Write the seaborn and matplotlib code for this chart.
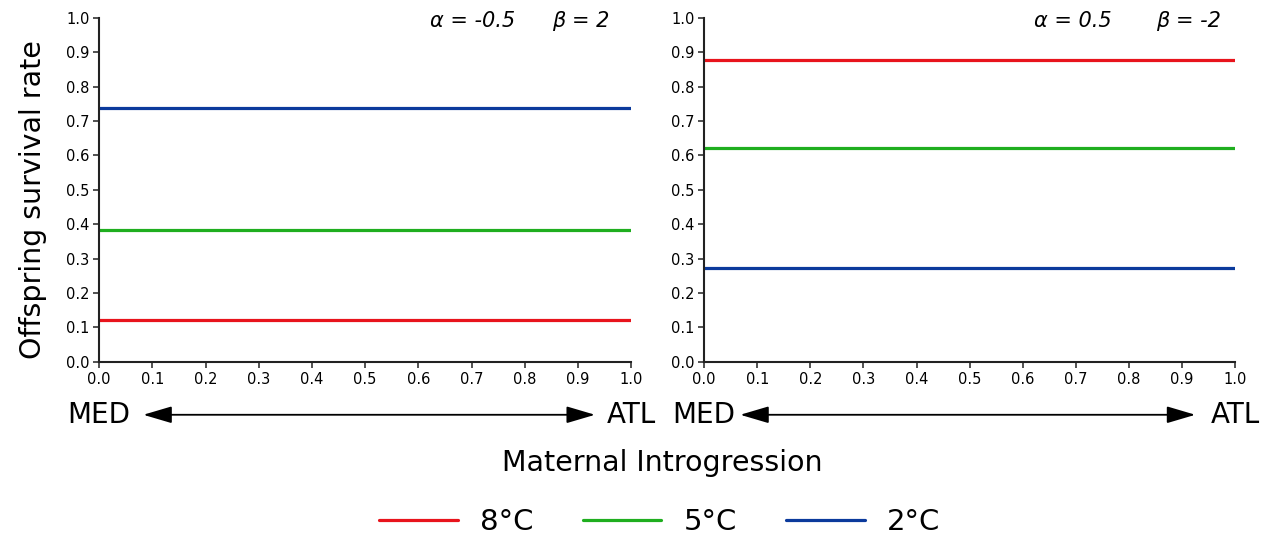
import pandas as pd
import matplotlib
matplotlib.use('Agg')
import matplotlib.pyplot as plt
import seaborn as sns

# data
introgression = [0.0, 1.0]
temperatures = ['8°C', '5°C', '2°C']
surv_left = {'8°C': 0.122, '5°C': 0.383, '2°C': 0.737}
surv_right = {'8°C': 0.878, '5°C': 0.621, '2°C': 0.272}
alpha_labels = ['α = -0.5', 'α = 0.5']
beta_labels = ['β = 2', 'β = -2']
ticks = [0.0, 0.1, 0.2, 0.3, 0.4, 0.5, 0.6, 0.7, 0.8, 0.9, 1.0]

colors = {'8°C': '#e8141c', '5°C': '#1fae1f', '2°C': '#0b3a9c'}

sns.set_theme(style='ticks')
plt.rcParams['font.family'] = ['DejaVu Sans']
plt.rcParams['text.color'] = 'black'
plt.rcParams['xtick.color'] = 'black'
plt.rcParams['ytick.color'] = 'black'
plt.rcParams['axes.labelcolor'] = 'black'


def make_df(surv):
    rows = []
    for t in temperatures:
        for x in introgression:
            rows.append({'intro': x, 'survival': surv[t], 'temp': t})
    return pd.DataFrame(rows)


fig = plt.figure(figsize=(12.71, 5.40), dpi=100)
ax1 = fig.add_axes([0.078, 0.330, 0.4186, 0.637])
ax2 = fig.add_axes([0.554, 0.330, 0.4178, 0.637])

# arrow tips in axes fraction (left, right) for each panel
arrow_ends = [(0.083, 0.932), (0.068, 0.925)]

for i, (ax, surv) in enumerate([(ax1, surv_left), (ax2, surv_right)]):
    sns.lineplot(data=make_df(surv), x='intro', y='survival', hue='temp',
                 hue_order=temperatures, palette=colors, linewidth=2.3,
                 ax=ax, legend=(i == 0))
    ax.set_xlim(0, 1)
    ax.set_ylim(0, 1)
    ax.set_xticks(ticks)
    ax.set_yticks(ticks)
    ax.set_xticklabels([f'{t:.1f}' for t in ticks])
    ax.set_yticklabels([f'{t:.1f}' for t in ticks])
    ax.tick_params(axis='both', labelsize=10.5, length=4, width=1.2, color='#333333', pad=3)
    ax.set_xlabel('')
    ax.set_ylabel('')
    for s in ['top', 'right']:
        ax.spines[s].set_visible(False)
    for s in ['left', 'bottom']:
        ax.spines[s].set_linewidth(1.5)
        ax.spines[s].set_color('#222222')
    ax.text(0.622, 0.99, alpha_labels[i], transform=ax.transAxes, ha='left', va='center',
            fontsize=15, style='italic')
    ax.text(0.851, 0.99, beta_labels[i], transform=ax.transAxes, ha='left', va='center',
            fontsize=15, style='italic')
    # MED <-> ATL arrow under the axis
    a0, a1 = arrow_ends[i]
    ax.annotate('', xy=(a1, -0.154), xytext=(a0, -0.154), xycoords='axes fraction',
                arrowprops=dict(arrowstyle='<|-|>,head_length=0.88,head_width=0.26',
                                color='black', lw=1.3, mutation_scale=20,
                                shrinkA=0, shrinkB=0))
    ax.text(0.0, -0.154, 'MED', transform=ax.transAxes, ha='center', va='center', fontsize=20)
    ax.text(1.0, -0.154, 'ATL', transform=ax.transAxes, ha='center', va='center', fontsize=20)

ax1.set_ylabel('Offspring survival rate', fontsize=20.5)
ax1.yaxis.set_label_coords(-0.098, 0.471)

fig.text(0.521, 0.143, 'Maternal Introgression', ha='center', va='center', fontsize=20.5)

handles, labels = ax1.get_legend_handles_labels()
ax1.get_legend().remove()
fig.legend(handles, labels, loc='center', bbox_to_anchor=(0.519, 0.033), ncol=3,
           frameon=False, fontsize=21, handlelength=2.7, handletextpad=0.75,
           columnspacing=1.7)

fig.savefig('out.png', dpi=100)
